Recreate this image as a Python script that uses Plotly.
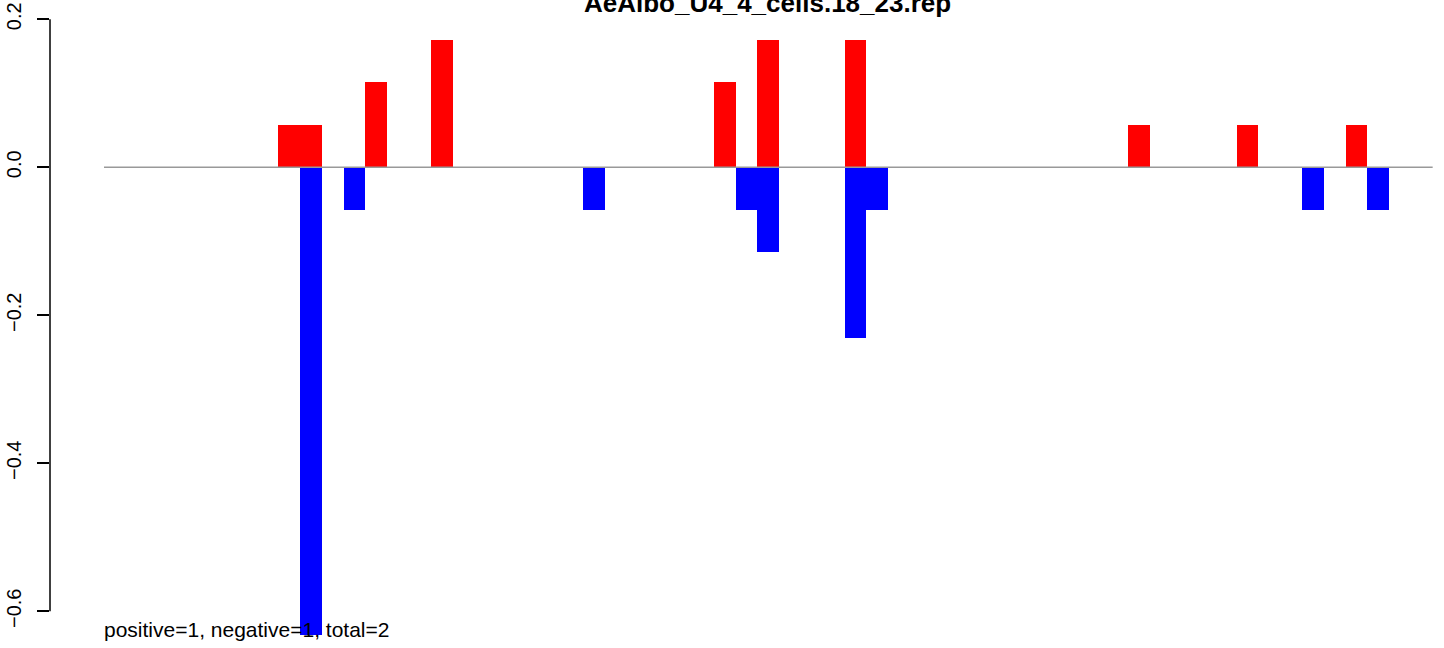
import plotly.graph_objects as go

# bin positions (1..61) and signed scores
n_bins = 61
pos_bins = [9, 10, 13, 16, 29, 31, 35, 48, 53, 58]
pos_values = [0.0575, 0.0575, 0.115, 0.1725, 0.115, 0.1725, 0.1725, 0.0575, 0.0575, 0.0575]
neg_bins = [10, 12, 23, 30, 31, 35, 36, 56, 59]
neg_values = [-0.6325, -0.0575, -0.0575, -0.0575, -0.115, -0.23, -0.0575, -0.0575, -0.0575]

y_ticks = [-0.6, -0.4, -0.2, 0.0, 0.2]
y_tick_labels = ["\u22120.6", "\u22120.4", "\u22120.2", "0.0", "0.2"]

title_text = "AeAlbo_U4_4_cells.18_23.rep"
footer_text = "positive=1, negative=1, total=2"

FONT = "Liberation Sans, Arial, Helvetica, sans-serif"

fig = go.Figure()

fig.add_trace(go.Bar(
    x=pos_bins, y=pos_values, width=1,
    marker=dict(color="#FF0000", line=dict(width=0)),
    showlegend=False,
))
fig.add_trace(go.Bar(
    x=neg_bins, y=neg_values, width=1,
    marker=dict(color="#0000FF", line=dict(width=0)),
    showlegend=False,
))

# zero line across all bins
fig.add_shape(type="line", xref="x", yref="y",
              x0=0.5, x1=n_bins + 0.5, y0=0, y1=0,
              line=dict(color="#999999", width=1.6), layer="above")

# R-style axis line, only between first and last tick
fig.add_shape(type="line", xref="paper", yref="y",
              x0=0, x1=0, y0=y_ticks[0], y1=y_ticks[-1],
              line=dict(color="black", width=1.5))

fig.add_annotation(
    text="<b>" + title_text + "</b>",
    xref="paper", yref="paper",
    x=(767.5 - 50) / 1394, y=1 - 20 / 648,
    xanchor="center", yanchor="bottom",
    showarrow=False, font=dict(family=FONT, size=26, color="black"),
)

fig.add_annotation(
    text=footer_text,
    xref="x", yref="paper",
    x=0.5, y=1 - 629 / 648, xshift=-2,
    xanchor="left", yanchor="middle",
    showarrow=False, font=dict(family=FONT, size=21, color="black"),
)

fig.update_layout(
    width=1444, height=648,
    margin=dict(l=50, r=0, t=0, b=0),
    plot_bgcolor="white", paper_bgcolor="white",
    barmode="overlay", bargap=0,
    font=dict(family=FONT, size=20, color="black"),
)

fig.update_xaxes(range=[-1.979, 62.02], visible=False, showgrid=False, zeroline=False)
fig.update_yaxes(
    range=[-0.6496, 0.2261],
    tickvals=y_ticks, ticktext=y_tick_labels,
    tickangle=-90,
    ticks="outside", ticklen=12, tickwidth=1.5, tickcolor="black",
    ticklabelstandoff=8,
    showgrid=False, zeroline=False, showline=False,
    tickfont=dict(family=FONT, size=20, color="black"),
)

# drop the browser's default 8px body margin so the figure sits at the page corner
fig.write_html(
    "out.html",
    config={"displayModeBar": False},
    post_script="document.body.style.margin='0';document.body.style.overflow='hidden';",
)
